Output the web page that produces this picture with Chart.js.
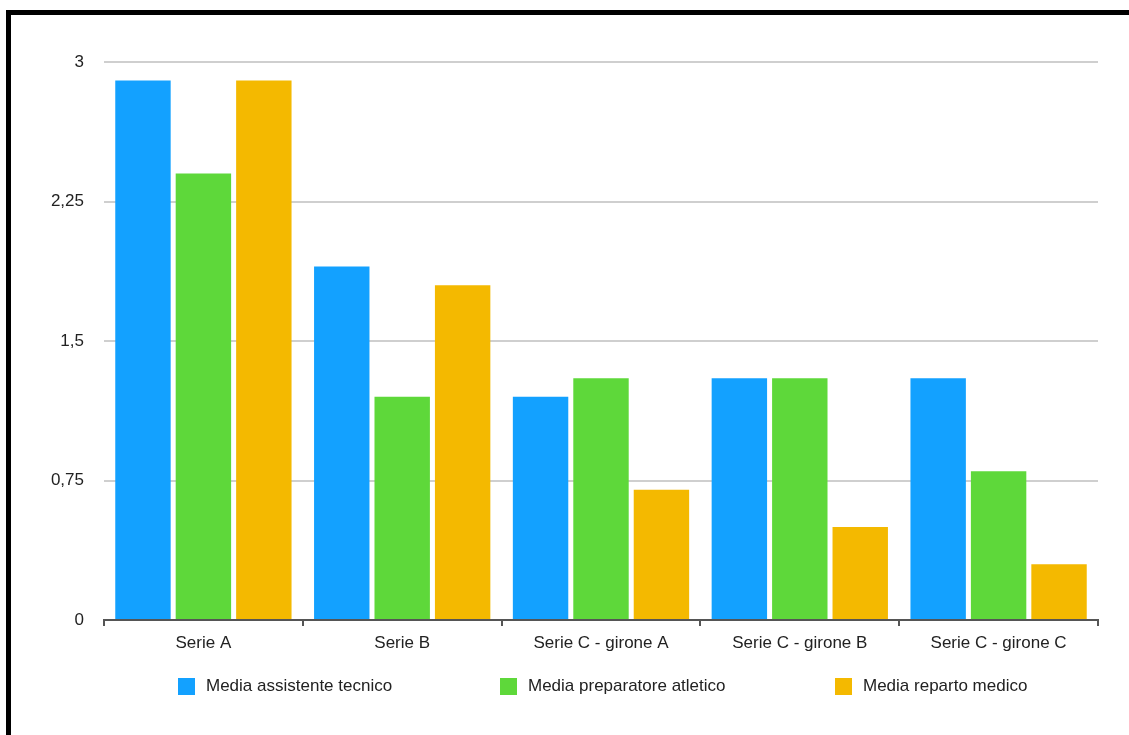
<!DOCTYPE html>
<html lang="it">
<head>
<meta charset="utf-8">
<title>Media per categoria</title>
<script src="https://cdn.jsdelivr.net/npm/chart.js@4.4.1/dist/chart.umd.min.js"></script>
<style>
    html, body { margin: 0; padding: 0; background: #fff; }
    body { width: 1129px; height: 735px; position: relative; overflow: hidden; font-family: "Liberation Sans", Arial, sans-serif; }
    .frame { position: absolute; left: 6px; top: 10px; right: -20px; bottom: -20px; border-left: 5px solid #000; border-top: 5px solid #000; }
    .wrap { position: absolute; left: 0; top: 0; width: 1129px; height: 735px; }
    #legend { position: absolute; left: 178px; top: 676px; display: grid; grid-template-columns: 322px 335px auto; margin: 0; padding: 0; list-style: none; }
    #legend li { display: flex; align-items: center; font-size: 17px; color: #222; line-height: 20px; }
    #legend span.box { width: 17px; height: 17px; margin-right: 11px; display: inline-block; }
</style>
</head>
<body>
<div class="frame"></div>
<div class="wrap"><canvas id="chart"></canvas></div>
<ul id="legend"></ul>
<script>
// categories and series
const categories = ['Serie A', 'Serie B', 'Serie C - girone A', 'Serie C - girone B', 'Serie C - girone C'];
const seriesNames = ['Media assistente tecnico', 'Media preparatore atletico', 'Media reparto medico'];
const assistenteTecnico = [2.9, 1.9, 1.2, 1.3, 1.3];
const preparatoreAtletico = [2.4, 1.2, 1.3, 1.3, 0.8];
const repartoMedico = [2.9, 1.8, 0.7, 0.5, 0.3];
const seriesColors = ['#13a1ff', '#5ed83a', '#f4b900'];
const yTickLabels = ['0', '0,75', '1,5', '2,25', '3'];

const values = [assistenteTecnico, preparatoreAtletico, repartoMedico];
const fontFamily = '"Liberation Sans", Arial, sans-serif';

const datasets = seriesNames.map((name, i) => ({
    label: name,
    data: values[i],
    backgroundColor: seriesColors[i],
    borderWidth: 0,
    categoryPercentage: 0.912,
    barPercentage: 0.917
}));

const ctx = document.getElementById('chart').getContext('2d');
const chart = new Chart(ctx, {
    type: 'bar',
    data: { labels: categories, datasets: datasets },
    options: {
        responsive: true,
        maintainAspectRatio: false,
        animation: false,
        layout: { padding: { top: 62, right: 31, bottom: 0, left: 0 } },
        plugins: {
            legend: { display: false },
            tooltip: { enabled: false }
        },
        scales: {
            x: {
                afterFit: (scale) => { scale.height = 115; },
                grid: {
                    display: true,
                    drawOnChartArea: false,
                    drawTicks: true,
                    tickLength: 6,
                    color: '#555',
                    lineWidth: 2
                },
                border: { display: true, color: '#555', width: 2 },
                ticks: {
                    color: '#222',
                    padding: 7,
                    font: { family: fontFamily, size: 17 },
                    maxRotation: 0
                }
            },
            y: {
                min: 0,
                max: 3,
                afterFit: (scale) => { scale.width = 104; },
                grid: {
                    drawTicks: false,
                    lineWidth: 2,
                    color: (c) => (c.tick && c.tick.value === 0) ? 'rgba(0,0,0,0)' : '#cfcfcf'
                },
                border: { display: false },
                ticks: {
                    stepSize: 0.75,
                    padding: 20,
                    color: '#222',
                    font: { family: fontFamily, size: 17 },
                    callback: (v, i) => yTickLabels[i]
                }
            }
        }
    }
});

// legend built from the same series arrays
const legendEl = document.getElementById('legend');
seriesNames.forEach((name, i) => {
    const li = document.createElement('li');
    const box = document.createElement('span');
    box.className = 'box';
    box.style.background = seriesColors[i];
    li.appendChild(box);
    li.appendChild(document.createTextNode(name));
    legendEl.appendChild(li);
});
</script>
</body>
</html>
